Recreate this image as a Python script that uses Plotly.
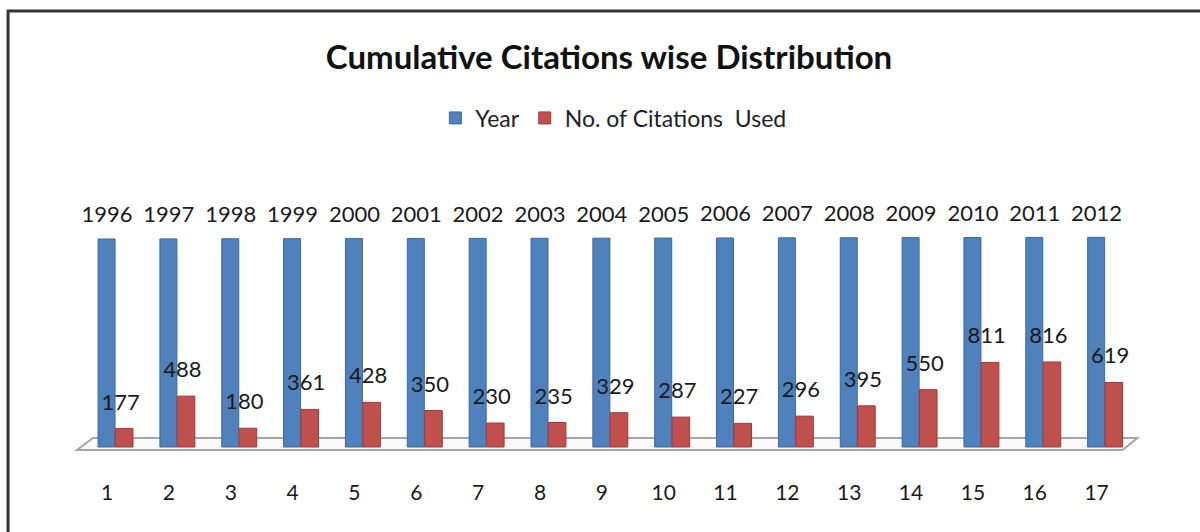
import plotly.graph_objects as go

categories = list(range(1, 18))
years = [1996, 1997, 1998, 1999, 2000, 2001, 2002, 2003, 2004, 2005,
         2006, 2007, 2008, 2009, 2010, 2011, 2012]
citations = [177, 488, 180, 361, 428, 350, 230, 235, 329, 287,
             227, 296, 395, 550, 811, 816, 619]

BLUE = "#4F81BD"
RED = "#C0504D"
FONT = "Lato"

fig = go.Figure()

fig.add_trace(go.Bar(
    x=categories, y=years, name="Year",
    offset=-0.145, width=0.275,
    marker=dict(color=BLUE, line=dict(color="#3B6AA0", width=1)),
    hoverinfo="x+y",
))
fig.add_trace(go.Bar(
    x=categories, y=citations, name="No. of Citations  Used",
    offset=0.135, width=0.285,
    marker=dict(color=RED, line=dict(color="#9E3B38", width=1)),
    hoverinfo="x+y",
))

# data labels
fig.add_trace(go.Scatter(
    x=[c + 0.0 for c in categories], y=years, text=[str(v) for v in years],
    mode="markers+text", textposition="top center",
    marker=dict(size=16, color="rgba(0,0,0,0)"),
    textfont=dict(family=FONT, size=22, color="#1a1a1a"),
    showlegend=False, hoverinfo="skip",
))
fig.add_trace(go.Scatter(
    x=[c + 0.22 for c in categories], y=citations, text=[str(v) for v in citations],
    mode="markers+text", textposition="top center",
    marker=dict(size=20, color="rgba(0,0,0,0)"),
    textfont=dict(family=FONT, size=22, color="#1a1a1a"),
    showlegend=False, hoverinfo="skip",
))

# 3D-like floor
fig.add_shape(type="path",
              path="M 0.515,-29 L 17.42,-29 L 17.66,86 L 0.774,86 Z",
              xref="x", yref="y", layer="below",
              fillcolor="#FAFAFA", line=dict(color="#A6A6A6", width=2))

# outer frame
fig.add_shape(type="path",
              path="M -0.0607,-0.5 L -0.0607,1.621 L 1.2,1.621",
              xref="paper", yref="paper", layer="above",
              line=dict(color="#333333", width=3))

fig.update_layout(
    width=1200, height=532,
    margin=dict(l=73, r=57, t=180, b=80),
    paper_bgcolor="white", plot_bgcolor="rgba(0,0,0,0)",
    barmode="overlay",
    title=dict(text="<b>Cumulative Citations wise Distribution</b>",
               x=0.5075, xanchor="center", y=1 - 57 / 532, yanchor="middle",
               font=dict(family=FONT, size=33, color="#111111")),
    legend=dict(orientation="h", x=0.505, xanchor="center", y=1.228, yanchor="middle",
                font=dict(family=FONT, size=23, color="#222222"),
                itemwidth=30, bgcolor="rgba(0,0,0,0)"),
    xaxis=dict(range=[0.45, 17.75], tickvals=categories,
               ticktext=[str(c) for c in categories],
               showgrid=False, zeroline=False, showline=False,
               ticks="outside", ticklen=22, tickcolor="rgba(0,0,0,0)",
               tickfont=dict(family=FONT, size=21, color="#1a1a1a")),
    yaxis=dict(range=[-48, 2562], visible=False, showgrid=False, zeroline=False),
    showlegend=True,
)

fig.write_html("out.html", config={"displayModeBar": False},
               post_script="document.body.style.margin='0';document.body.style.overflow='hidden';")
